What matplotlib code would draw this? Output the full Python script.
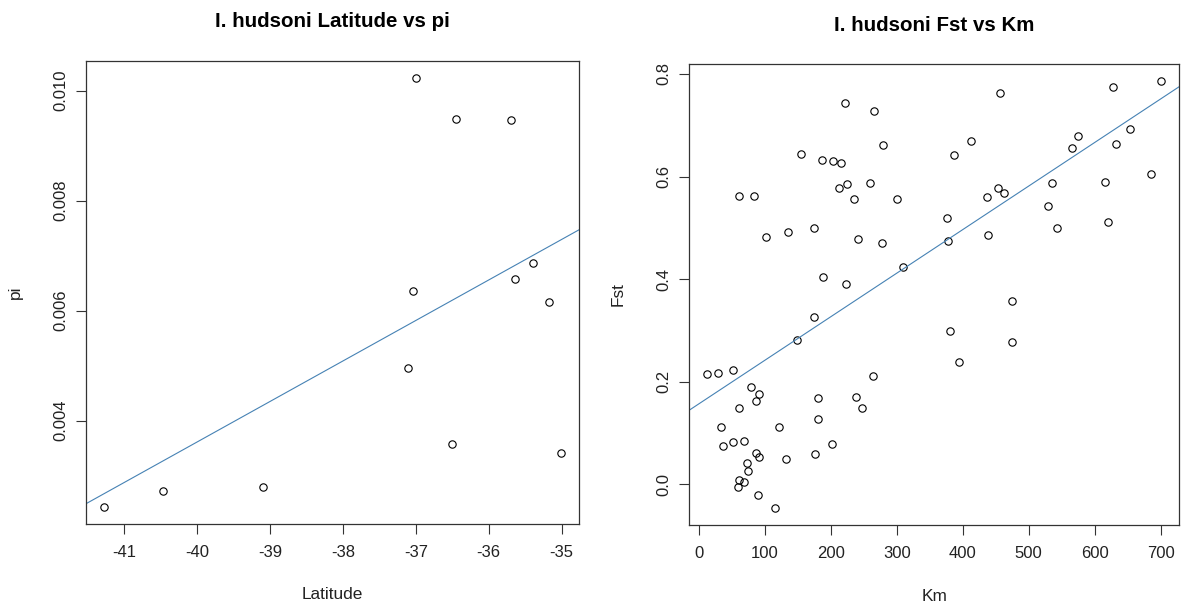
import numpy as np
import matplotlib
matplotlib.use("Agg")
import matplotlib.pyplot as plt

plt.rcParams["font.family"] = ["Liberation Sans", "DejaVu Sans"]

# ─────────────────────────────────────────────
# DATA
# ─────────────────────────────────────────────
latitude = [-41.27, -40.46, -39.10, -37.11, -37.04, -37.00, -36.51,
            -36.45, -35.70, -35.64, -35.39, -35.18, -35.01]
pi_vals = [0.002435, 0.002731, 0.002787, 0.004959, 0.006360, 0.010233,
           0.003577, 0.009485, 0.009464, 0.006578, 0.006867, 0.006162,
           0.003415]
lat_ticks = [-41, -40, -39, -38, -37, -36, -35]
pi_ticks = [0.004, 0.006, 0.008, 0.010]

km = [13, 29, 52, 61, 84, 102, 135, 155, 175, 186, 204, 216, 222, 213,
      224, 235, 259, 266, 279, 241, 277, 300, 309, 188, 223, 175, 148,
      79, 91, 87, 61, 34, 37, 52, 68, 87, 91, 73, 74, 61, 68, 59, 89,
      115, 121, 132, 176, 180, 181, 202, 238, 248, 264, 376, 378, 380,
      387, 395, 413, 437, 439, 453, 457, 463, 474, 474, 529, 535, 543,
      565, 575, 615, 620, 628, 633, 654, 685, 701]
fst = [0.216, 0.218, 0.223, 0.562, 0.562, 0.483, 0.492, 0.644, 0.499,
       0.633, 0.631, 0.627, 0.744, 0.577, 0.585, 0.556, 0.588, 0.727,
       0.661, 0.479, 0.470, 0.556, 0.423, 0.404, 0.391, 0.327, 0.281,
       0.189, 0.177, 0.162, 0.148, 0.112, 0.074, 0.083, 0.085, 0.062,
       0.053, 0.041, 0.027, 0.008, 0.004, -0.005, -0.021, -0.046, 0.112,
       0.049, 0.060, 0.168, 0.127, 0.079, 0.170, 0.149, 0.212, 0.520,
       0.474, 0.299, 0.642, 0.239, 0.669, 0.560, 0.487, 0.577, 0.763,
       0.567, 0.358, 0.277, 0.543, 0.587, 0.499, 0.656, 0.680, 0.589,
       0.512, 0.775, 0.664, 0.692, 0.604, 0.786]
km_ticks = [0, 100, 200, 300, 400, 500, 600, 700]
fst_ticks = [0.0, 0.2, 0.4, 0.6, 0.8]

LINE_COLOR = "#4682B4"
AXIS_COLOR = "#333333"
TEXT_COLOR = "#222222"


def r_limits(values):
    """R style axis range: data range plus 4% each side."""
    lo, hi = min(values), max(values)
    pad = 0.04 * (hi - lo)
    return lo - pad, hi + pad


def scatter_panel(ax, x, y, xticks, yticks, yfmt, title, xlabel, ylabel):
    ax.plot(x, y, linestyle="none", marker="o", markersize=5.3,
            markerfacecolor="none", markeredgecolor="black",
            markeredgewidth=0.8)
    # least-squares fit line, drawn across the whole panel
    slope, intercept = np.polyfit(x, y, 1)
    ax.axline((0, intercept), slope=slope, color=LINE_COLOR, linewidth=0.8)

    ax.set_xlim(*r_limits(x))
    ax.set_ylim(*r_limits(y))
    ax.set_xticks(xticks)
    ax.set_xticklabels([str(t) for t in xticks])
    ax.set_yticks(yticks)
    ax.set_yticklabels([yfmt.format(t) for t in yticks], rotation=90,
                       va="center")

    ax.tick_params(axis="both", direction="out", length=7, width=0.8,
                   color=AXIS_COLOR, labelsize=12, labelcolor=TEXT_COLOR)
    ax.tick_params(axis="x", pad=8)
    ax.tick_params(axis="y", pad=6)
    for sp in ax.spines.values():
        sp.set_color(AXIS_COLOR)
        sp.set_linewidth(0.9)

    ax.set_title(title, fontsize=14.8, fontweight="bold", pad=24)
    ax.set_xlabel(xlabel, fontsize=12.4, va="center", color=TEXT_COLOR)
    ax.set_ylabel(ylabel, fontsize=12.4, va="center", color=TEXT_COLOR)


fig = plt.figure(figsize=(11.84, 6.10), dpi=100)
ax1 = fig.add_axes([0.0726, 0.141, 0.4166, 0.7595])
ax2 = fig.add_axes([0.5822, 0.1393, 0.4139, 0.7557])

scatter_panel(ax1, latitude, pi_vals, lat_ticks, pi_ticks, "{:.3f}",
              "I. hudsoni Latitude vs pi", "Latitude", "pi")
scatter_panel(ax2, km, fst, km_ticks, fst_ticks, "{:.1f}",
              "I. hudsoni Fst vs Km", "Km", "Fst")

ax1.xaxis.set_label_coords(0.5, -0.152)
ax1.yaxis.set_label_coords(-0.1433, 0.5)
ax2.xaxis.set_label_coords(0.5, -0.155)
ax2.yaxis.set_label_coords(-0.1443, 0.5)

fig.savefig("out.png", dpi=100)
